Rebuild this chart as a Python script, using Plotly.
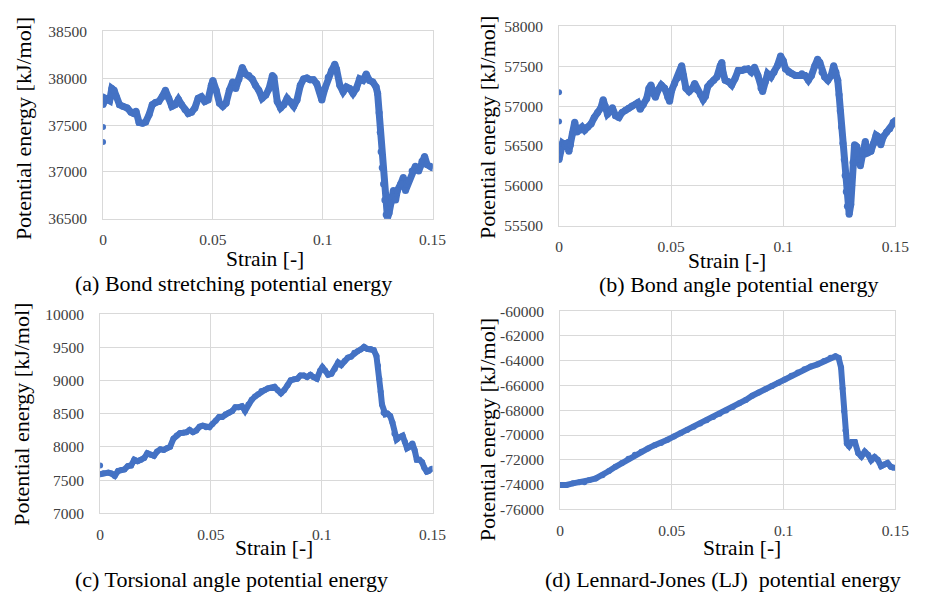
import plotly.graph_objects as go

# ---------------- data: potential energy [kJ/mol] vs strain [-] ----------------
# (a) bond stretching
a_start_strain = [0.0, 0.0]
a_start_energy = [37320, 37480]
a_strain = [0.0, 0.001, 0.003, 0.004, 0.005, 0.006, 0.0075, 0.009, 0.011, 0.0127,
            0.014, 0.015, 0.0164, 0.018, 0.0194, 0.021, 0.0224, 0.0239, 0.0254, 0.0269,
            0.0284, 0.0299, 0.0313, 0.0328, 0.0343, 0.0358, 0.0373, 0.0388, 0.0403, 0.0418,
            0.0433, 0.0448, 0.0463, 0.0478, 0.0493, 0.05, 0.0515, 0.053, 0.0545, 0.056,
            0.0575, 0.059, 0.0604, 0.0619, 0.0634, 0.0649, 0.0664, 0.0679, 0.0694, 0.0709,
            0.0724, 0.0741, 0.0756, 0.0771, 0.0778, 0.0793, 0.0808, 0.0823, 0.0838, 0.0853,
            0.0868, 0.0883, 0.0898, 0.0913, 0.0928, 0.0943, 0.0958, 0.0973, 0.0988, 0.0996,
            0.101, 0.1025, 0.104, 0.1055, 0.1063, 0.1078, 0.1093, 0.1108, 0.1123, 0.1138,
            0.1153, 0.1168, 0.1183, 0.1198, 0.1213, 0.1228, 0.1243, 0.125, 0.1257, 0.1262,
            0.1266, 0.1271, 0.1277, 0.1283, 0.1289, 0.1295, 0.1302, 0.131, 0.1322, 0.1332,
            0.134, 0.1355, 0.1367, 0.1377, 0.1392, 0.1407, 0.1422, 0.1437, 0.1452, 0.1464,
            0.1475, 0.149, 0.15]
a_energy = [37720, 37786, 37760, 37890, 37872, 37803, 37717, 37700, 37683, 37638,
            37624, 37648, 37528, 37521, 37534, 37614, 37717, 37741, 37752, 37803,
            37872, 37786, 37700, 37717, 37776, 37717, 37666, 37624, 37638, 37683,
            37786, 37803, 37752, 37769, 37924, 37976, 37872, 37734, 37700, 37734,
            37872, 37959, 37890, 37993, 38114, 38045, 38028, 37993, 37924, 37872,
            37786, 37821, 37890, 38028, 38010, 37752, 37683, 37717, 37786, 37752,
            37700, 37769, 37924, 37993, 38003, 37983, 37983, 37941, 37855, 37769,
            37890, 38010, 38079, 38148, 38097, 37924, 37855, 37907, 37890, 37838,
            37890, 37993, 37976, 38045, 37976, 37959, 37907, 37838, 37631, 37424,
            37217, 37045, 36872, 36700, 36545, 36510, 36562, 36666, 36803, 36700,
            36803, 36872, 36941, 36803, 36907, 37010, 37062, 37010, 37114, 37166,
            37079, 37062, 37045]

# (b) bond angle
b_start_strain = [0.0, 0.0]
b_start_energy = [57176, 56807]
b_strain = [0.0, 0.0007, 0.0016, 0.0026, 0.0036, 0.0044, 0.0051, 0.006, 0.007, 0.008,
            0.0092, 0.0103, 0.0114, 0.0128, 0.0143, 0.0157, 0.0172, 0.0187, 0.0197, 0.0206,
            0.0216, 0.023, 0.0238, 0.0252, 0.0267, 0.0281, 0.0296, 0.031, 0.0325, 0.034,
            0.0351, 0.0362, 0.0376, 0.0391, 0.0401, 0.041, 0.042, 0.043, 0.0442, 0.0456,
            0.0471, 0.0485, 0.0493, 0.0503, 0.0515, 0.0529, 0.0541, 0.0547, 0.0555, 0.0566,
            0.058, 0.0595, 0.0605, 0.0617, 0.0631, 0.0643, 0.0653, 0.0663, 0.0675, 0.069,
            0.0704, 0.0719, 0.0726, 0.0731, 0.0741, 0.0756, 0.077, 0.0785, 0.0799, 0.0814,
            0.0828, 0.0843, 0.0858, 0.0872, 0.0887, 0.0901, 0.0908, 0.092, 0.093, 0.0945,
            0.0959, 0.0974, 0.0988, 0.1, 0.101, 0.1025, 0.1039, 0.1054, 0.1068, 0.1083,
            0.1097, 0.1112, 0.1126, 0.1141, 0.1153, 0.1163, 0.1173, 0.1185, 0.1199, 0.1214,
            0.1225, 0.1235, 0.1243, 0.1249, 0.1254, 0.126, 0.1266, 0.1272, 0.1276, 0.1281,
            0.1286, 0.1294, 0.1301, 0.1305, 0.1311, 0.1318, 0.1327, 0.1337, 0.1344, 0.1355,
            0.1366, 0.1376, 0.1391, 0.1403, 0.1414, 0.1424, 0.1435, 0.1446, 0.1461, 0.1475,
            0.149, 0.15]
b_energy = [56330, 56454, 56535, 56515, 56535, 56434, 56515, 56657, 56798, 56677,
            56697, 56738, 56697, 56738, 56778, 56859, 56920, 56981, 57082, 57001,
            56900, 56940, 56981, 56880, 56859, 56920, 56949, 56973, 57001, 57022,
            57042, 56961, 57022, 57095, 57224, 57265, 57163, 57111, 57204, 57265,
            57224, 57111, 57062, 57204, 57285, 57354, 57427, 57508, 57386, 57224,
            57184, 57224, 57285, 57204, 57143, 57082, 57123, 57245, 57285, 57326,
            57366, 57508, 57549, 57427, 57326, 57305, 57265, 57346, 57447, 57447,
            57468, 57468, 57427, 57488, 57386, 57224, 57184, 57305, 57407, 57366,
            57427, 57508, 57630, 57569, 57468, 57427, 57407, 57386, 57386, 57407,
            57386, 57326, 57386, 57508, 57589, 57549, 57427, 57366, 57326, 57386,
            57508, 57427, 57326, 57143, 56940, 56738, 56535, 56332, 56129, 55927,
            55744, 55643, 55765, 56008, 56292, 56515, 56494, 56332, 56251, 56413,
            56555, 56413, 56434, 56535, 56636, 56616, 56515, 56616, 56677, 56717,
            56798, 56819]

# (c) torsional angle
c_start_strain = [0.0]
c_start_energy = [7720]
c_strain = [0.0, 0.0015, 0.0037, 0.0051, 0.0066, 0.0081, 0.0096, 0.011, 0.0125, 0.014,
            0.0154, 0.0169, 0.0184, 0.0199, 0.0213, 0.0228, 0.0243, 0.0257, 0.0272, 0.0287,
            0.0301, 0.0316, 0.0331, 0.0346, 0.036, 0.0375, 0.039, 0.0404, 0.0419, 0.0434,
            0.0449, 0.0463, 0.0478, 0.0493, 0.0507, 0.0522, 0.0537, 0.0551, 0.0566, 0.0581,
            0.0596, 0.061, 0.0625, 0.064, 0.0654, 0.0669, 0.0684, 0.0699, 0.0713, 0.0728,
            0.0743, 0.0757, 0.0772, 0.0787, 0.0801, 0.0816, 0.0831, 0.0846, 0.086, 0.0875,
            0.089, 0.0904, 0.0919, 0.0934, 0.0949, 0.0963, 0.0978, 0.0993, 0.1003, 0.1015,
            0.1029, 0.1044, 0.1059, 0.1074, 0.1088, 0.1103, 0.1118, 0.1132, 0.1147, 0.1162,
            0.1176, 0.1191, 0.1206, 0.1221, 0.1235, 0.1247, 0.1254, 0.126, 0.1266, 0.1272,
            0.1279, 0.1287, 0.1297, 0.1309, 0.1319, 0.1328, 0.1338, 0.1353, 0.1365, 0.1375,
            0.1385, 0.1397, 0.1409, 0.1419, 0.1429, 0.1441, 0.1453, 0.1463, 0.1474, 0.1482,
            0.1497]
c_energy = [7588, 7602, 7612, 7598, 7563, 7637, 7651, 7661, 7710, 7720,
            7807, 7783, 7807, 7832, 7905, 7880, 7866, 7929, 7963, 7954,
            7978, 8002, 8124, 8173, 8207, 8212, 8222, 8256, 8222, 8246,
            8305, 8319, 8295, 8295, 8344, 8393, 8451, 8451, 8490, 8515,
            8539, 8598, 8598, 8612, 8539, 8637, 8710, 8759, 8793, 8841,
            8856, 8881, 8890, 8905, 8856, 8807, 8856, 8929, 9002, 9017,
            9027, 9076, 9076, 9051, 9085, 9051, 9027, 9149, 9198, 9149,
            9085, 9100, 9173, 9271, 9232, 9295, 9344, 9359, 9417, 9441,
            9466, 9505, 9476, 9476, 9456, 9368, 9222, 9027, 8832, 8637,
            8515, 8490, 8500, 8466, 8368, 8198, 8110, 8149, 8168, 8076,
            7978, 8002, 8051, 7954, 7807, 7807, 7768, 7685, 7627, 7637,
            7671]

# (d) Lennard-Jones
d_strain = [0.0, 0.0029, 0.0058, 0.0087, 0.0109, 0.0131, 0.016, 0.019, 0.0219, 0.0248,
            0.0277, 0.0306, 0.0335, 0.0364, 0.0394, 0.0423, 0.0452, 0.0481, 0.051, 0.0539,
            0.0569, 0.0598, 0.0627, 0.0656, 0.0685, 0.0714, 0.0743, 0.0773, 0.0802, 0.0831,
            0.086, 0.0889, 0.0918, 0.0948, 0.0977, 0.1006, 0.1035, 0.1064, 0.1093, 0.1122,
            0.1152, 0.1181, 0.121, 0.1232, 0.1246, 0.1257, 0.1264, 0.1271, 0.1277, 0.1283,
            0.1293, 0.1305, 0.1319, 0.1334, 0.1348, 0.1363, 0.1378, 0.1392, 0.1407, 0.1421,
            0.1436, 0.145, 0.1465, 0.148, 0.1494]
d_energy = [-74026, -74026, -73896, -73817, -73817, -73635, -73504, -73243, -72904, -72565,
            -72251, -71912, -71599, -71338, -71077, -70816, -70633, -70372, -70111, -69850,
            -69589, -69328, -69067, -68806, -68545, -68284, -68023, -67736, -67423, -67162,
            -66823, -66562, -66301, -66040, -65779, -65518, -65204, -64943, -64682, -64474,
            -64291, -64030, -63769, -63638, -63769, -64552, -66248, -68075, -69641, -70685,
            -70894, -70555, -70555, -71468, -71729, -71338, -71599, -72042, -71781, -71990,
            -72512, -72382, -72251, -72565, -72643]

# ---------------- axis ticks and captions ----------------
x_ticks = [0, 0.05, 0.1, 0.15]
x_ticktext = ["0", "0.05", "0.1", "0.15"]
a_yticks = [36500, 37000, 37500, 38000, 38500]
b_yticks = [55500, 56000, 56500, 57000, 57500, 58000]
c_yticks = [7000, 7500, 8000, 8500, 9000, 9500, 10000]
d_yticks = [-76000, -74000, -72000, -70000, -68000, -66000, -64000, -62000, -60000]
captions = ["(a) Bond stretching potential energy",
            "(b) Bond angle potential energy",
            "(c) Torsional angle potential energy",
            "(d) Lennard-Jones (LJ)\u00a0 potential energy"]
y_title = "Potential energy [kJ/mol]"
x_title = "Strain [-]"

# ---------------- layout geometry (pixels) ----------------
W, H = 928, 599
BLUE = "#4472C4"
GRID = "#d9d9d9"
FONT = "Liberation Serif, Times New Roman, serif"

# plot rectangles: left, right, top, bottom
boxes = [(101, 437, 23, 216), (566, 909, 18, 223),
         (98, 437, 314, 519), (567, 909, 311, 515)]
ytitle_pos = [(20, 123), (493, 122), (18, 417), (493, 433)]
xtitle_pos = [(266, 257), (737, 259), (275, 555), (753, 555)]
caption_pos = [(234, 283), (749, 284), (232, 587), (733, 587)]

panels = [
    (a_strain, a_energy, a_start_strain, a_start_energy, a_yticks, 7),
    (b_strain, b_energy, b_start_strain, b_start_energy, b_yticks, 7),
    (c_strain, c_energy, c_start_strain, c_start_energy, c_yticks, 6),
    (d_strain, d_energy, [], [], d_yticks, 6),
]

fig = go.Figure()
annotations = []
for i, (xs, ys, xs0, ys0, yt, w) in enumerate(panels):
    n = "" if i == 0 else str(i + 1)
    xa, ya = "x" + n, "y" + n
    fig.add_trace(go.Scatter(x=xs, y=ys, mode="lines+markers", xaxis=xa, yaxis=ya,
                             line=dict(color=BLUE, width=w),
                             marker=dict(color=BLUE, size=w),
                             showlegend=False, hoverinfo="skip"))
    if xs0:
        fig.add_trace(go.Scatter(x=xs0, y=ys0, mode="markers", xaxis=xa, yaxis=ya,
                                 marker=dict(color=BLUE, size=6),
                                 showlegend=False, hoverinfo="skip"))
    l, r, t, b = boxes[i]
    common = dict(showgrid=True, gridcolor=GRID, gridwidth=1, zeroline=False,
                  showline=True, linecolor=GRID, linewidth=1, mirror=True,
                  ticks="", tickfont=dict(family=FONT, size=15.5, color="#404040"))
    fig.layout["xaxis" + n] = dict(domain=[l / W, r / W], anchor=ya, range=[0, 0.15],
                                   tickvals=x_ticks, ticktext=x_ticktext,
                                   ticklabelstandoff=7, **common)
    fig.layout["yaxis" + n] = dict(domain=[1 - b / H, 1 - t / H], anchor=xa,
                                   range=[yt[0], yt[-1]], tickvals=yt,
                                   ticktext=[str(v) for v in yt],
                                   ticklabelstandoff=12, **common)
    annotations.append(dict(text=y_title, x=ytitle_pos[i][0] / W, y=1 - ytitle_pos[i][1] / H,
                            textangle=-90, font=dict(family=FONT, size=22, color="#000000")))
    annotations.append(dict(text=x_title, x=xtitle_pos[i][0] / W, y=1 - xtitle_pos[i][1] / H,
                            font=dict(family=FONT, size=21.5, color="#000000")))
    annotations.append(dict(text=captions[i], x=caption_pos[i][0] / W, y=1 - caption_pos[i][1] / H,
                            font=dict(family=FONT, size=22, color="#000000")))

for ann in annotations:
    ann.update(xref="paper", yref="paper", xanchor="center", yanchor="middle",
               showarrow=False)

fig.update_layout(width=W, height=H, margin=dict(l=0, r=0, t=0, b=0),
                  font=dict(family=FONT),
                  paper_bgcolor="white", plot_bgcolor="white",
                  annotations=annotations)

fig.write_html("out.html", config={"displayModeBar": False})
